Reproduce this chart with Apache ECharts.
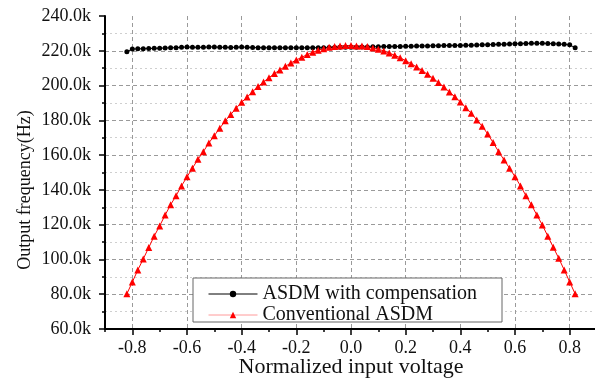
<!DOCTYPE html>
<html>
<head>
<meta charset="utf-8">
<script src="https://cdn.jsdelivr.net/npm/echarts@6/dist/echarts.min.js"></script>
<style>
  html, body { margin: 0; padding: 0; background: #fff; }
  #chart { width: 595px; height: 378px; }
</style>
</head>
<body>
<div id="chart"></div>
<script>
// normalized input voltage (x)
const voltage = [
  -0.82, -0.80, -0.78, -0.76, -0.74, -0.72, -0.70, -0.68, -0.66, -0.64,
  -0.62, -0.60, -0.58, -0.56, -0.54, -0.52, -0.50, -0.48, -0.46, -0.44,
  -0.42, -0.40, -0.38, -0.36, -0.34, -0.32, -0.30, -0.28, -0.26, -0.24,
  -0.22, -0.20, -0.18, -0.16, -0.14, -0.12, -0.10, -0.08, -0.06, -0.04,
  -0.02, 0.00, 0.02, 0.04, 0.06, 0.08, 0.10, 0.12, 0.14, 0.16,
  0.18, 0.20, 0.22, 0.24, 0.26, 0.28, 0.30, 0.32, 0.34, 0.36,
  0.38, 0.40, 0.42, 0.44, 0.46, 0.48, 0.50, 0.52, 0.54, 0.56,
  0.58, 0.60, 0.62, 0.64, 0.66, 0.68, 0.70, 0.72, 0.74, 0.76,
  0.78, 0.80, 0.82
];

// output frequency in kHz
const withComp = [
  219.5, 221.0, 221.1, 221.2, 221.3, 221.4, 221.5, 221.6, 221.7, 221.8,
  222.0, 222.2, 222.0, 222.0, 222.0, 222.2, 222.2, 222.0, 222.0, 221.9,
  222.0, 222.2, 222.0, 221.9, 221.8, 221.8, 221.7, 221.7, 221.7, 221.7,
  221.7, 221.7, 221.7, 221.7, 221.8, 221.8, 221.8, 221.9, 221.9, 222.0,
  222.0, 222.0, 222.1, 222.2, 222.2, 222.3, 222.3, 222.4, 222.4, 222.5,
  222.5, 222.6, 222.6, 222.7, 222.8, 222.8, 222.9, 222.9, 223.0, 223.0,
  223.1, 223.1, 223.2, 223.2, 223.3, 223.4, 223.5, 223.6, 223.7, 223.8,
  223.9, 224.0, 224.1, 224.2, 224.3, 224.3, 224.3, 224.2, 224.0, 223.9,
  223.7, 223.4, 221.8
];

const conventional = [
  80.2, 87.0, 93.9, 100.3, 106.8, 113.4, 119.3, 125.5, 131.4, 136.7,
  142.3, 147.5, 152.5, 157.6, 162.0, 167.0, 171.2, 175.5, 179.7, 183.3,
  187.0, 190.4, 193.4, 196.5, 199.4, 202.1, 204.5, 206.9, 209.0, 211.1,
  213.0, 214.7, 216.3, 217.8, 219.1, 220.3, 221.2, 222.0, 222.4, 222.8,
  223.0, 223.0, 222.8, 222.8, 222.4, 221.6, 220.9, 219.9, 218.7, 217.4,
  216.0, 214.3, 212.6, 210.7, 208.6, 206.5, 204.2, 201.7, 199.2, 196.3,
  193.6, 190.6, 187.3, 184.1, 180.2, 176.6, 172.2, 167.2, 162.0, 157.2,
  152.5, 147.6, 142.3, 136.7, 131.4, 125.5, 119.8, 113.4, 107.0, 100.7,
  94.0, 87.1, 80.2
];

const seriesNames = ['ASDM with compensation', 'Conventional ASDM'];
const xTitle = 'Normalized input voltage';
const yTitle = 'Output frequency(Hz)';

const font = '"Times New Roman", "Liberation Serif", serif';

const chart = echarts.init(document.getElementById('chart'));

const pairs = ys => voltage.map((x, i) => [x, ys[i]]);

chart.setOption({
  animation: false,
  backgroundColor: '#fff',
  grid: [
    // data grid, x from -0.9 to 0.9 (right end runs just past the canvas)
    { left: 105, top: 16, width: 492, bottom: 49, outerBoundsMode: 'none' },
    // helper grid for the major x ticks (-0.8 .. 0.8)
    { left: 132.333, top: 16, width: 437.333, bottom: 49, outerBoundsMode: 'none' }
  ],
  xAxis: [
    {
      type: 'value', gridIndex: 0, min: -0.9, max: 0.9, interval: 0.1,
      axisLine: { show: true, onZero: false, lineStyle: { color: '#000', width: 2 } },
      axisTick: { show: true, length: 3, lineStyle: { color: '#000', width: 1.5 } },
      axisLabel: { show: false },
      splitLine: { show: false }
    },
    {
      type: 'value', gridIndex: 1, min: -0.8, max: 0.8, interval: 0.2,
      name: xTitle, nameLocation: 'middle', nameGap: 27, nameMoveOverlap: false,
      nameTextStyle: { fontFamily: font, fontSize: 22, color: '#111' },
      axisLine: { show: false, onZero: false },
      axisTick: { show: true, length: 6, lineStyle: { color: '#000', width: 1.5 } },
      axisLabel: {
        fontFamily: font, fontSize: 18, color: '#111', margin: 10,
        formatter: v => v.toFixed(1)
      },
      splitLine: { show: true, lineStyle: { color: '#9a9a9a', type: [4, 3], width: 1 } }
    }
  ],
  yAxis: [
    {
      type: 'value', gridIndex: 0, min: 60, max: 240, interval: 20,
      axisLine: { show: true, onZero: false, lineStyle: { color: '#000', width: 2 } },
      axisTick: { show: true, length: 6, lineStyle: { color: '#000', width: 1.5 } },
      minorTick: { show: true, splitNumber: 2, length: 3, lineStyle: { color: '#000', width: 1.5 } },
      axisLabel: {
        fontFamily: font, fontSize: 18, color: '#111', margin: 14,
        formatter: v => v.toFixed(1) + 'k'
      },
      splitLine: { show: true, showMaxLine: false, lineStyle: { color: '#9a9a9a', type: [4, 3], width: 1 } },
      minorSplitLine: { show: true, lineStyle: { color: '#cfcfcf', type: [2, 3], width: 1 } }
    },
    { type: 'value', gridIndex: 1, min: 60, max: 240, show: false }
  ],
  legend: {
    orient: 'vertical',
    left: 208, top: 284, padding: 0,
    itemWidth: 49, itemHeight: 8, itemGap: 1,
    z: 20,
    textStyle: { fontFamily: font, fontSize: 20, lineHeight: 20, color: '#111' },
    data: [
      { name: seriesNames[0], lineStyle: { color: '#000', width: 1 } },
      { name: seriesNames[1], lineStyle: { color: '#ff9a9a', width: 1 }, itemStyle: { color: '#ff0000' } }
    ]
  },
  graphic: [
    {
      type: 'rect', z: 10,
      shape: { x: 193, y: 278, width: 309, height: 44 },
      style: { fill: '#fff', stroke: '#666', lineWidth: 1 }
    },
    {
      type: 'text', x: 25, y: 190, rotation: Math.PI / 2,
      style: {
        text: yTitle, font: '18px ' + font, fill: '#111',
        textAlign: 'center', textVerticalAlign: 'middle'
      }
    }
  ],
  series: [
    {
      name: seriesNames[0], type: 'line', xAxisIndex: 0, yAxisIndex: 0,
      data: pairs(withComp),
      symbol: 'circle', symbolSize: 5, showAllSymbol: true,
      lineStyle: { color: '#000', width: 1 },
      itemStyle: { color: '#000' }
    },
    {
      name: seriesNames[1], type: 'line', xAxisIndex: 0, yAxisIndex: 0,
      data: pairs(conventional),
      symbol: 'triangle', symbolSize: 7, showAllSymbol: true,
      lineStyle: { color: '#ff0000', width: 1 },
      itemStyle: { color: '#ff0000' }
    }
  ]
});
</script>
</body>
</html>
